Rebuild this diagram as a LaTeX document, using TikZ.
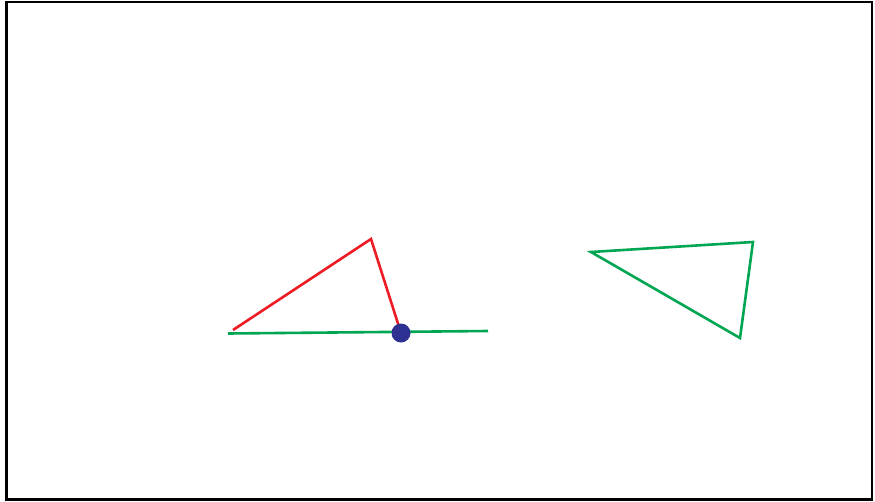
\documentclass[tikz,border=0pt]{standalone}
\definecolor{myred}{RGB}{237,28,36}
\definecolor{mygreen}{RGB}{0,166,81}
\definecolor{myblue}{RGB}{46,49,146}
\begin{document}
\begin{tikzpicture}[x=1pt,y=-1pt,
  seg/.style={line width=2.6pt,line join=miter},
  frame/.style={draw=black,line width=2.2pt}]
\useasboundingbox (0,0) rectangle (875,501);
\draw[frame] (6.5,2) rectangle (872,499.5);
% coordinates
\coordinate (r1) at (233,330);
\coordinate (r2) at (371,239);
\coordinate (p) at (401,333);
\coordinate (g1) at (228,333.5);
\coordinate (g2) at (488,331);
\coordinate (t1) at (591,252);
\coordinate (t2) at (753,242);
\coordinate (t3) at (740,338);
\draw[seg,mygreen] (g1) -- (g2);
\draw[seg,myred] (r1) -- (r2) -- (p);
\draw[seg,mygreen] (t1) -- (t2) -- (t3) -- cycle;
\fill[myblue] (p) circle (9.5);
\end{tikzpicture}
\end{document}
